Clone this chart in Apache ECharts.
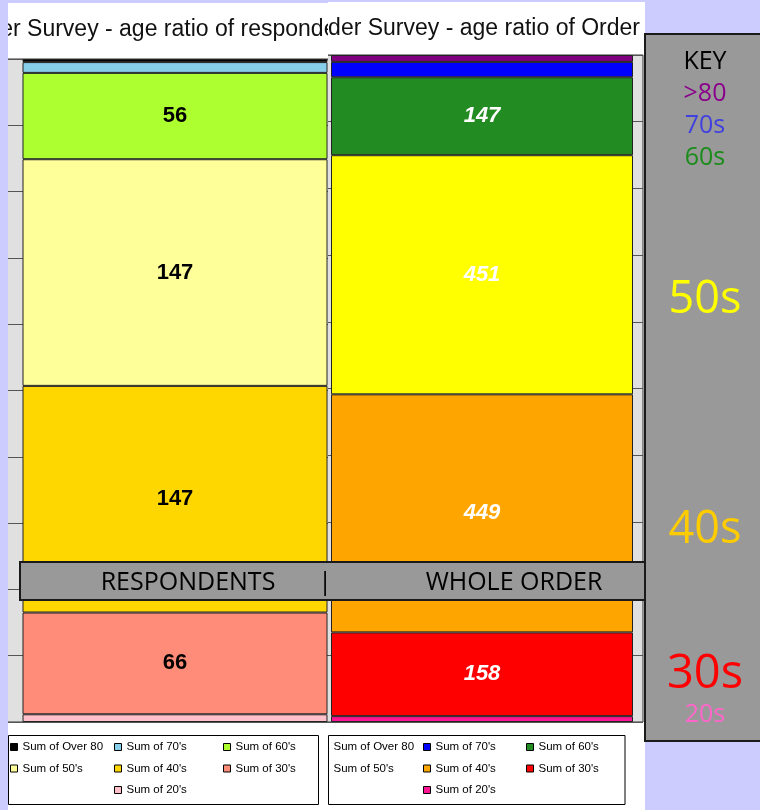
<!DOCTYPE html>
<html lang="en">
<head>
<meta charset="UTF-8">
<title>Reader Survey - age ratio</title>
<script src="https://cdn.jsdelivr.net/npm/echarts@6/dist/echarts.min.js"></script>
<style>
    body { margin: 0; background: #ccccff; width: 760px; height: 810px; overflow: hidden; position: relative; }
    #leftBox { position: absolute; left: 8px; top: 3px; width: 320px; height: 807px; overflow: hidden; background: #fff; }
    #rightBox { position: absolute; left: 328px; top: 2px; width: 317px; height: 808px; overflow: hidden; background: #fff; }
    #left { position: absolute; left: -68px; top: 0; width: 420px; height: 807px; }
    #right { position: absolute; left: -100px; top: 0; width: 417px; height: 808px; }
    #overlay { position: absolute; left: 0; top: 0; width: 760px; height: 810px; pointer-events: none; }
</style>
</head>
<body>
<!-- two cropped excel charts side by side, key and band on top -->
<div id="leftBox"><div id="left"></div></div>
<div id="rightBox"><div id="right"></div></div>
<div id="overlay"></div>
<script type="text/javascript">
    // top of the stack first
    var ageGroups = ["Sum of Over 80", "Sum of 70's", "Sum of 60's", "Sum of 50's", "Sum of 40's", "Sum of 30's", "Sum of 20's"];
    var respondents = [2, 7, 56, 147, 147, 66, 5];
    var wholeOrder = [13, 29, 147, 451, 449, 158, 11];
    var respondentColors = ['#000000', '#87ceeb', '#adff2f', '#ffff99', '#ffd700', '#ff8c78', '#ffc0cb'];
    var orderColors = ['#800080', '#0000ff', '#228b22', '#ffff00', '#ffa500', '#ff0000', '#ff1493'];
    // legend columns (indexes into ageGroups)
    var legendColumns = [[0, 3], [1, 4, 6], [2, 5]];

    var keyLabels = ['KEY', '>80', '70s', '60s', '50s', '40s', '30s', '20s'];
    var keyColors = ['#000000', '#8b008b', '#4040e0', '#1a8c1a', '#ffff00', '#ffcc00', '#ff0000', '#ff66cc'];
    var bandLabels = ['RESPONDENTS', '|', 'WHOLE ORDER'];

    var titleFont = '23px "Liberation Sans", Arial, sans-serif';
    var labelFamily = '"Liberation Sans", Arial, sans-serif';
    var keyFamily = '"Open Sans", "Noto Sans", sans-serif';

    function sum(arr) {
        return arr.reduce(function (a, b) { return a + b; }, 0);
    }

    function buildOption(cfg) {
        var total = sum(cfg.values);
        var series = [];
        // echarts stacks the first series at the bottom
        for (var i = cfg.values.length - 1; i >= 0; i--) {
            series.push({
                name: ageGroups[i],
                type: 'bar',
                stack: 'age',
                barWidth: cfg.barWidth,
                data: [cfg.values[i]],
                itemStyle: { color: cfg.colors[i], borderColor: '#222', borderWidth: 1 },
                label: {
                    show: cfg.values[i] > 40,
                    position: 'inside',
                    color: cfg.labelColor,
                    fontSize: 22,
                    fontWeight: 'bold',
                    fontStyle: cfg.italic ? 'italic' : 'normal',
                    fontFamily: labelFamily
                },
                emphasis: { disabled: true }
            });
        }
        var legends = legendColumns.map(function (col, k) {
            return {
                orient: 'vertical',
                left: cfg.legendLeft[k],
                top: cfg.legendTop,
                padding: 0,
                itemWidth: 7,
                itemHeight: 7,
                itemGap: 9.5,
                icon: 'rect',
                selectedMode: false,
                data: col.map(function (i) { return ageGroups[i]; }),
                itemStyle: { borderColor: '#000', borderWidth: 1 },
                textStyle: { fontSize: 11.5, color: '#000', fontFamily: '"Liberation Sans", Arial, sans-serif' }
            };
        });
        return {
            animation: false,
            backgroundColor: 'transparent',
            title: {
                text: cfg.title,
                left: cfg.titleLeft,
                right: cfg.titleRight,
                top: cfg.titleTop,
                padding: 0,
                textStyle: { fontSize: 23, fontWeight: 'normal', color: '#111', fontFamily: '"Liberation Sans", Arial, sans-serif' }
            },
            grid: {
                left: cfg.grid[0], top: cfg.grid[1], width: cfg.grid[2], height: cfg.grid[3],
                show: true, backgroundColor: '#e0e0e0', borderColor: '#333', borderWidth: 1,
                outerBoundsMode: 'none'
            },
            xAxis: { type: 'category', data: [''], show: false },
            yAxis: {
                type: 'value', min: 0, max: total, interval: total / 10,
                axisLabel: { show: false }, axisLine: { show: false }, axisTick: { show: false },
                splitLine: { show: true, lineStyle: { color: '#555', width: 1 } }
            },
            legend: legends,
            graphic: [{
                type: 'rect',
                shape: cfg.legendBox,
                style: { fill: 'none', stroke: '#000', lineWidth: 1 }
            }],
            series: series
        };
    }

    // hidden head of the left title (cropped off at the panel edge)
    var ctx = document.createElement('canvas').getContext('2d');
    ctx.font = titleFont;
    var hiddenWidth = ctx.measureText('Reade').width;

    var L = echarts.init(document.getElementById('left'));
    L.setOption(buildOption({
        values: respondents,
        colors: respondentColors,
        labelColor: '#000',
        italic: false,
        barWidth: 305,
        title: 'Reader Survey - age ratio of respondents',
        titleLeft: 73 - hiddenWidth,
        titleTop: 15,
        grid: [67, 56, 336, 663],
        legendLeft: [70, 174, 283],
        legendTop: 738,
        legendBox: { x: 68.5, y: 732.5, width: 310, height: 69 }
    }));

    var R = echarts.init(document.getElementById('right'));
    R.setOption(buildOption({
        values: wholeOrder,
        colors: orderColors,
        labelColor: '#fff',
        italic: true,
        barWidth: 302,
        title: 'Reader Survey - age ratio of Order',
        titleRight: 5,
        titleTop: 15,
        grid: [93, 53, 322, 667],
        legendLeft: [93, 195, 298],
        legendTop: 739,
        legendBox: { x: 100.5, y: 733.5, width: 296.5, height: 69 }
    }));

    // key panel and the RESPONDENTS | WHOLE ORDER band
    var keyY = [62, 94, 126, 158, 300, 530, 675, 715];
    var keySize = [25, 25, 25, 25, 45, 45, 47, 25];
    var bandX = [188, 325, 514];

    var graphics = [
        { type: 'rect', shape: { x: 20, y: 562, width: 625, height: 38 },
          style: { fill: '#999999', stroke: '#1a1a1a', lineWidth: 2 } },
        { type: 'rect', shape: { x: 645, y: 34, width: 125, height: 707 },
          style: { fill: '#999999', stroke: '#1a1a1a', lineWidth: 2 } }
    ];
    bandLabels.forEach(function (t, i) {
        graphics.push({
            type: 'text',
            style: { text: t, x: bandX[i], y: 583, align: 'center', verticalAlign: 'middle',
                     fill: '#000', fontSize: 25, fontFamily: keyFamily }
        });
    });
    keyLabels.forEach(function (t, i) {
        graphics.push({
            type: 'text',
            style: { text: t, x: 705, y: keyY[i], align: 'center', verticalAlign: 'middle',
                     fill: keyColors[i], fontSize: keySize[i], fontFamily: keyFamily }
        });
    });

    var O = echarts.init(document.getElementById('overlay'));
    O.setOption({ animation: false, backgroundColor: 'transparent', graphic: graphics });
</script>
</body>
</html>
